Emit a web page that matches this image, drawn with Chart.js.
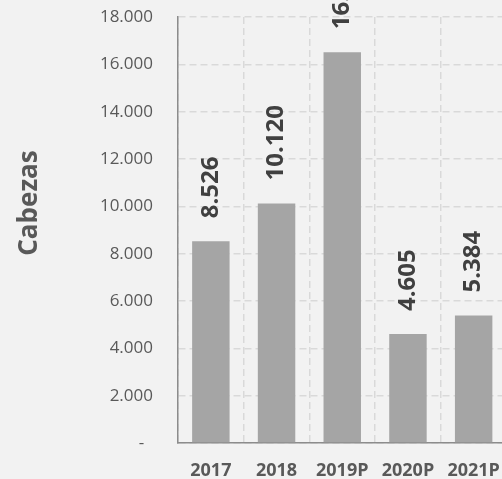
<!DOCTYPE html>
<html><head><meta charset="utf-8">
<script src="https://cdn.jsdelivr.net/npm/chart.js@4.4.1/dist/chart.umd.min.js"></script>
<style>
html,body{margin:0;padding:0;background:#f2f2f2;overflow:hidden}
#wrap{width:502px;height:479px;overflow:hidden;position:relative;background:#f2f2f2}
canvas{display:block}
</style></head>
<body><div id="wrap"><canvas id="c" width="510" height="479"></canvas></div>
<script>
const categories = ['2017', '2018', '2019P', '2020P', '2021P'];
const cabezas = [8526, 10120, 16510, 4605, 5384];
const yTickValues = [0, 2000, 4000, 6000, 8000, 10000, 12000, 14000, 16000, 18000];
const axisTitle = 'Cabezas';

function fmt(v) {
  return String(Math.round(v)).replace(/\B(?=(\d{3})+(?!\d))/g, '.');
}

const FONT = "'Open Sans', sans-serif";

const labelPlugin = {
  id: 'barLabels',
  afterDatasetsDraw(chart) {
    const ctx = chart.ctx;
    const meta = chart.getDatasetMeta(0);
    ctx.save();
    ctx.font = "bold 24px " + FONT;
    ctx.fillStyle = '#404040';
    ctx.textAlign = 'left';
    ctx.textBaseline = 'middle';
    meta.data.forEach((bar, i) => {
      ctx.save();
      ctx.translate(bar.x, bar.y - 23);
      ctx.rotate(-Math.PI / 2);
      ctx.fillText(fmt(cabezas[i]), 0, 0);
      ctx.restore();
    });
    ctx.restore();
  }
};

const titlePlugin = {
  id: 'yTitle',
  afterDraw(chart) {
    const ctx = chart.ctx;
    ctx.save();
    ctx.font = "bold 26px " + FONT;
    ctx.fillStyle = '#595959';
    ctx.textAlign = 'center';
    ctx.textBaseline = 'middle';
    ctx.translate(30, 203);
    ctx.rotate(-Math.PI / 2);
    ctx.fillText(axisTitle, 0, 0);
    ctx.restore();
  }
};

new Chart(document.getElementById('c'), {
  type: 'bar',
  data: {
    labels: categories,
    datasets: [{
      data: cabezas,
      backgroundColor: '#a5a5a5',
      borderWidth: 0,
      barPercentage: 0.57,
      categoryPercentage: 1.0
    }]
  },
  options: {
    responsive: false,
    animation: false,
    layout: { padding: { top: 17, right: 3.5, left: 0, bottom: 0 } },
    plugins: { legend: { display: false }, tooltip: { enabled: false }, title: { display: false } },
    scales: {
      x: {
        grid: { display: true, offset: true, color: '#d9d9d9', lineWidth: 1.5, drawTicks: false, tickLength: 0 },
        border: { display: true, color: '#8c8c8c', width: 1.5, dash: [7, 4] },
        ticks: { color: '#595959', font: { family: FONT, size: 18, weight: 'bold' }, padding: 17, maxRotation: 0, autoSkip: false },
        afterFit(scale) { scale.height = 36; scale.paddingLeft = 0; scale.paddingRight = 0; }
      },
      y: {
        min: 0,
        max: 18000,
        afterBuildTicks(scale) { scale.ticks = yTickValues.map(v => ({ value: v })); },
        grid: { color: '#d9d9d9', lineWidth: 1.5, drawTicks: false, tickLength: 0 },
        border: { display: true, color: '#8c8c8c', width: 1.5, dash: [7, 4] },
        ticks: {
          color: '#595959',
          font: { family: FONT, size: 17 },
          padding: 25,
          callback: (v) => v === 0 ? '-\u00a0\u00a0' : fmt(v)
        },
        afterFit(scale) { scale.width = 178; scale.paddingTop = 0; scale.paddingBottom = 0; }
      }
    }
  },
  plugins: [labelPlugin, titlePlugin]
});
</script>
</body></html>
